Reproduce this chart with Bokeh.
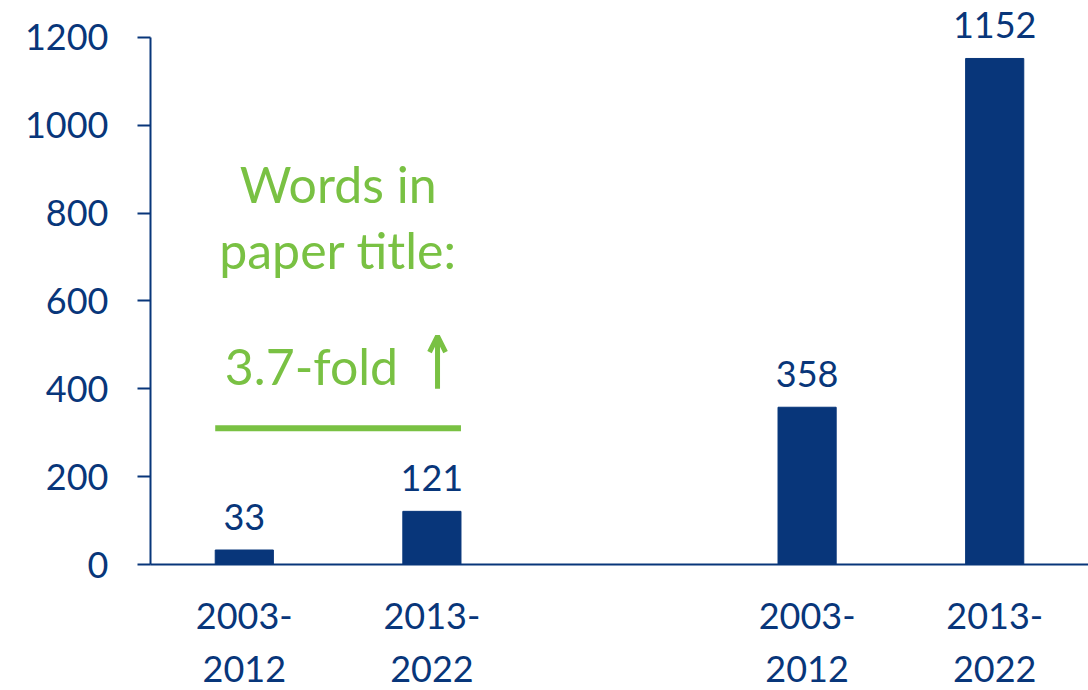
from bokeh.plotting import figure
from bokeh.models import Range1d, FixedTicker, ColumnDataSource, Arrow, OpenHead
from bokeh.core.properties import value
from bokeh.embed import file_html
from bokeh.resources import INLINE

# ---- data ----
groups = ["A", "B"]
periods = ["2003-2012", "2013-2022"]
period_labels = ["2003-\n2012", "2013-\n2022"]
values_a = [33, 121]
values_b = [358, 1152]
y_ticks = [0, 200, 400, 600, 800, 1000, 1200]
annot_lines = ["Words in", "paper title:"]
fold_text = "3.7-fold"

BLUE = "#08367a"
GREEN = "#79c143"
FONT = "Lato"

# slot positions: group g, period i -> g*3 + i + 1 (one empty slot between groups)
xs, vals, labels = [], [], []
for g, vals_g in enumerate([values_a, values_b]):
    for i, v in enumerate(vals_g):
        xs.append(g * 3 + i + 1)
        vals.append(v)
        labels.append(str(v))

src = ColumnDataSource(dict(x=xs, top=vals, label=labels))

p = figure(frame_width=938, frame_height=564, output_backend="svg", toolbar_location=None,
           x_range=Range1d(0.5, 5.5), y_range=Range1d(0, 1284),
           min_border_left=150, min_border_right=0, min_border_top=0, min_border_bottom=126)
p.outline_line_color = None
p.xgrid.grid_line_color = None
p.ygrid.grid_line_color = None
p.background_fill_color = "white"

p.vbar(x="x", top="top", width=0.31, bottom=0, source=src, color=BLUE)
p.text(x="x", y="top", text="label", source=src, text_align="center",
       text_baseline="bottom", y_offset=-20, text_font=value(FONT),
       text_font_size="36px", text_color=BLUE)

# y axis
ya = p.yaxis[0]
ya.ticker = FixedTicker(ticks=y_ticks)
ya.bounds = (0, 1200)
ya.axis_line_color = BLUE
ya.axis_line_width = 2
ya.major_tick_line_color = BLUE
ya.major_tick_line_width = 2
ya.major_tick_out = 13
ya.major_tick_in = 0
ya.minor_tick_line_color = None
ya.major_label_text_font = FONT
ya.major_label_text_font_size = "36px"
ya.major_label_text_color = BLUE
ya.major_label_standoff = 29

# x axis
xa = p.xaxis[0]
tick_pos = xs
xa.ticker = FixedTicker(ticks=tick_pos)
xa.major_label_overrides = {x: period_labels[k % 2] for k, x in enumerate(tick_pos)}
xa.axis_line_color = BLUE
xa.axis_line_width = 2
xa.major_tick_line_color = None
xa.major_tick_out = 0
xa.major_tick_in = 0
xa.minor_tick_line_color = None
xa.major_label_text_font = FONT
xa.major_label_text_font_size = "36px"
xa.major_label_text_color = BLUE
xa.major_label_text_line_height = 1.22
xa.major_label_standoff = 28

# green annotation over group A
x_mid = (xs[0] + xs[1]) / 2
x_left = xs[0] - 0.155
x_right = xs[1] + 0.155
p.line(x=[x_left, x_right], y=[310, 310], line_color=GREEN, line_width=6)
p.text(x=[x_mid, x_mid], y=[867, 715], text=annot_lines, text_align="center",
       text_baseline="middle", text_font=value(FONT), text_font_size="50px",
       text_color=GREEN)
p.text(x=[x_mid], y=[453], text=[fold_text], text_align="right",
       text_baseline="middle", x_offset=60, text_font=value(FONT),
       text_font_size="50px", text_color=GREEN)
arrow_x = x_mid + 0.53
p.add_layout(Arrow(end=OpenHead(size=16, line_color=GREEN, line_width=5),
                   x_start=arrow_x, y_start=400, x_end=arrow_x, y_end=520,
                   line_color=GREEN, line_width=5))

open("out.html", "w").write(file_html(p, INLINE))
